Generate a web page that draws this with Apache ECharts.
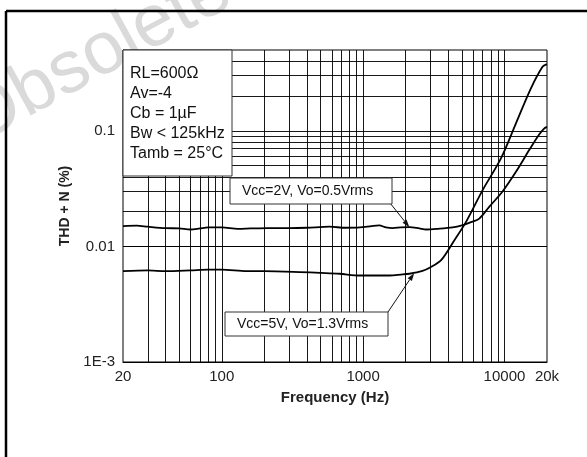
<!DOCTYPE html>
<html><head><meta charset="utf-8">
<script src="https://cdn.jsdelivr.net/npm/echarts@6/dist/echarts.min.js"></script>
<style>html,body{margin:0;padding:0;background:#fff}#c{width:587px;height:457px}</style>
</head><body><div id="c"></div><script>
// ---- data ----
const freq2V = [20, 25, 30, 40, 50, 60, 70, 80, 100, 130, 160, 210, 300, 400, 580, 750, 950, 1150, 1300, 1450, 1620, 1850, 2130, 2500, 2800, 3400, 4300, 5000, 5800, 6640, 7800, 9660, 12060, 14960, 17500, 19000, 20000];
const thd2V  = [0.0150, 0.0151, 0.0148, 0.0144, 0.0143, 0.0140, 0.0143, 0.0146, 0.0146, 0.0142, 0.0143, 0.0144, 0.0144, 0.0145, 0.0148, 0.0145, 0.0146, 0.0150, 0.0152, 0.0146, 0.0144, 0.0146, 0.0147, 0.0143, 0.0140, 0.0142, 0.0146, 0.0152, 0.0162, 0.0174, 0.0220, 0.0297, 0.0442, 0.0681, 0.092, 0.104, 0.108];
const freq5V = [20, 30, 40, 60, 80, 100, 150, 200, 355, 500, 681, 944, 1200, 1538, 1850, 2130, 2600, 3000, 3564, 4424, 5348, 7010, 9443, 12060, 15390, 18590, 20000];
const thd5V  = [0.0061, 0.0062, 0.0061, 0.0062, 0.0063, 0.0063, 0.0061, 0.0061, 0.0060, 0.0059, 0.0058, 0.0056, 0.0056, 0.0056, 0.0057, 0.0058, 0.0061, 0.0066, 0.0076, 0.0113, 0.0163, 0.0307, 0.0577, 0.116, 0.233, 0.358, 0.378];
const xGridLines = [30, 40, 50, 60, 70, 80, 90, 100, 200, 300, 400, 500, 600, 700, 800, 900, 1000, 2000, 3000, 4000, 5000, 6000, 7000, 8000, 9000, 10000];
const yGridLines = [0.002, 0.003, 0.004, 0.005, 0.006, 0.007, 0.008, 0.009, 0.01, 0.02, 0.03, 0.04, 0.05, 0.06, 0.07, 0.08, 0.09, 0.1, 0.2, 0.3, 0.4];
const xTickLabels = {20: '20', 100: '100', 1000: '1000', 10000: '10000', 20000: '20k'};
const yTickLabels = {'-3': '1E-3', '-2': '0.01', '-1': '0.1'};
const conditionLines = ['RL=600\u03A9', 'Av=-4', 'Cb = 1\u00B5F', 'Bw < 125kHz', 'Tamb = 25\u00B0C'];
const label2V = 'Vcc=2V, Vo=0.5Vrms';
const label5V = 'Vcc=5V, Vo=1.3Vrms';
const arrowTip2V = [2130, 0.0146];
const arrowTip5V = [2300, 0.0059];
const xName = 'Frequency (Hz)';
const yName = 'THD + N (%)';
const watermark = 'Obsolete Product(s)';

const FONT = '"Liberation Sans", Arial, Helvetica, sans-serif';
const chart = echarts.init(document.getElementById('c'), null, {renderer: 'canvas'});

const pair = (xs, ys) => xs.map((x, i) => [x, ys[i]]);

const option = {
  animation: false,
  backgroundColor: '#fff',
  grid: {left: 123, top: 50, width: 424, height: 312, show: true, borderColor: '#000', borderWidth: 1, backgroundColor: '#fff', z: 1},
  xAxis: {
    type: 'log', logBase: 10, min: 20, max: 20000,
    name: xName, nameLocation: 'middle', nameGap: 28,
    nameTextStyle: {fontFamily: FONT, fontSize: 15, fontWeight: 'bold', color: '#222'},
    axisLine: {show: true, lineStyle: {color: '#000', width: 1}},
    axisTick: {show: false},
    splitLine: {show: false},
    axisLabel: {
      fontFamily: FONT, fontSize: 15, color: '#222', margin: 7,
      formatter: v => { const r = Math.round(v); for (const k in xTickLabels) { if (Math.abs(r - k) / k < 0.01) return xTickLabels[k]; } return ''; }
    }
  },
  yAxis: {
    type: 'log', logBase: 10, min: 0.001, max: 0.5,
    name: yName, nameLocation: 'middle', nameGap: 40, nameRotate: 90,
    nameTextStyle: {fontFamily: FONT, fontSize: 14, fontWeight: 'bold', color: '#222'},
    axisLine: {show: true, lineStyle: {color: '#000', width: 1}},
    axisTick: {show: false},
    splitLine: {show: false},
    axisLabel: {
      fontFamily: FONT, fontSize: 15, color: '#222', margin: 8,
      formatter: v => { const l = Math.log10(v); const r = Math.round(l); if (Math.abs(l - r) < 1e-6 && yTickLabels[String(r)]) return yTickLabels[String(r)]; return ''; }
    }
  },
  series: [
    {
      type: 'line', data: [], silent: true, z: 1,
      markLine: {
        silent: true, symbol: 'none', animation: false,
        label: {show: false},
        lineStyle: {color: '#000', width: 1, type: 'solid', opacity: 0.9},
        emphasis: {disabled: true},
        data: xGridLines.map(f => ({xAxis: f})).concat(yGridLines.map(v => ({yAxis: v})))
      }
    },
    {
      type: 'line', name: label2V, data: pair(freq2V, thd2V), showSymbol: false, smooth: 0.3, z: 3,
      lineStyle: {color: '#000', width: 1.8}
    },
    {
      type: 'line', name: label5V, data: pair(freq5V, thd5V), showSymbol: false, smooth: 0.3, z: 3,
      lineStyle: {color: '#000', width: 1.8}
    }
  ]
};
chart.setOption(option);

function arrow(tail, tipData) {
  const tip = chart.convertToPixel({gridIndex: 0}, tipData);
  const dx = tip[0] - tail[0], dy = tip[1] - tail[1];
  const len = Math.sqrt(dx * dx + dy * dy);
  const ux = dx / len, uy = dy / len, nx = -uy, ny = ux;
  const bx = tip[0] - ux * 8, by = tip[1] - uy * 8;
  return [
    {type: 'line', z: 50, shape: {x1: tail[0], y1: tail[1], x2: bx, y2: by}, style: {stroke: '#111', lineWidth: 1}},
    {type: 'polygon', z: 50, shape: {points: [tip, [bx + nx * 2.5, by + ny * 2.5], [bx - nx * 2.5, by - ny * 2.5]]}, style: {fill: '#111'}}
  ];
}

const graphics = [
  {type: 'text', z: 0, x: -16, y: 160, rotation: 0.5, style: {text: watermark, font: '74px ' + FONT, fill: '#dadada', textVerticalAlign: 'bottom'}},
  {type: 'rect', z: 100, shape: {x: 123, y: 50, width: 109, height: 126}, style: {fill: '#fff', stroke: '#333', lineWidth: 1}},
  {type: 'text', z: 101, x: 130, y: 64, style: {text: conditionLines.join('\n'), font: '16px ' + FONT, fill: '#111', lineHeight: 20, textVerticalAlign: 'top'}},
  {type: 'rect', z: 100, shape: {x: 230, y: 178, width: 162, height: 26}, style: {fill: '#fff', stroke: '#333', lineWidth: 1}},
  {type: 'text', z: 101, x: 242, y: 191, style: {text: label2V, font: '14px ' + FONT, fill: '#111', textVerticalAlign: 'middle'}},
  {type: 'rect', z: 100, shape: {x: 225, y: 312, width: 163, height: 24}, style: {fill: '#fff', stroke: '#333', lineWidth: 1}},
  {type: 'text', z: 101, x: 237, y: 324, style: {text: label5V, font: '14px ' + FONT, fill: '#111', textVerticalAlign: 'middle'}},
  {type: 'line', z: 102, shape: {x1: 6, y1: 11, x2: 587, y2: 11}, style: {stroke: '#000', lineWidth: 2.5}},
  {type: 'line', z: 102, shape: {x1: 6, y1: 11, x2: 6, y2: 457}, style: {stroke: '#000', lineWidth: 2.5}}
].concat(arrow([390, 203], arrowTip2V)).concat(arrow([388, 312], arrowTip5V));

chart.setOption({graphic: {elements: graphics}});
</script></body></html>
